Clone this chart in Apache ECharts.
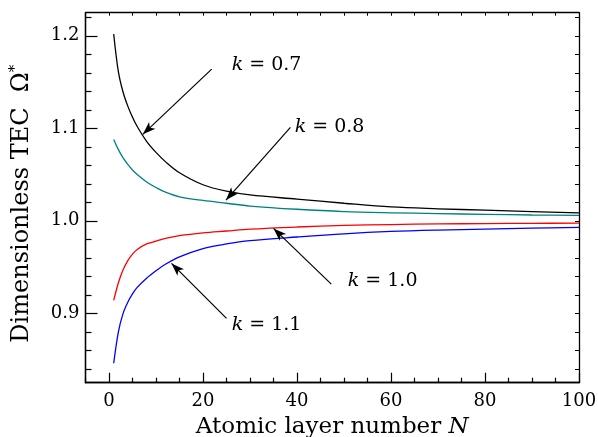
<!DOCTYPE html>
<html>
<head>
<meta charset="utf-8">
<script src="https://cdn.jsdelivr.net/npm/echarts@6/dist/echarts.min.js"></script>
<style>
  html, body { margin: 0; padding: 0; background: #fff; }
  #chart { width: 598px; height: 437px; }
</style>
</head>
<body>
<div id="chart"></div>
<script>
// Valores
const layerN = [1, 2, 3, 4, 5, 6, 8, 10, 12, 15, 20, 25, 30, 40, 50, 60, 70, 80, 90, 100];
const omegaK07 = [1.202, 1.161, 1.139, 1.124, 1.112, 1.102, 1.086, 1.074, 1.064, 1.052, 1.039, 1.032, 1.028, 1.0235, 1.019, 1.015, 1.013, 1.0115, 1.010, 1.0087];
const omegaK08 = [1.088, 1.077, 1.068, 1.061, 1.055, 1.050, 1.042, 1.036, 1.031, 1.026, 1.022, 1.019, 1.016, 1.0125, 1.010, 1.0087, 1.0078, 1.007, 1.0063, 1.0058];
const omegaK10 = [0.914, 0.933, 0.947, 0.957, 0.964, 0.969, 0.975, 0.978, 0.981, 0.984, 0.987, 0.989, 0.991, 0.9933, 0.995, 0.996, 0.9966, 0.997, 0.9973, 0.9975];
const omegaK11 = [0.846, 0.880, 0.900, 0.912, 0.921, 0.928, 0.938, 0.946, 0.953, 0.961, 0.970, 0.975, 0.9785, 0.9825, 0.986, 0.9885, 0.990, 0.991, 0.992, 0.9929];

const xMajorTicks = [0, 20, 40, 60, 80, 100];
const xMinorTicks = [-5, 5, 10, 15, 25, 30, 35, 45, 50, 55, 65, 70, 75, 85, 90, 95];
const yMajorTicks = [0.9, 1.0, 1.1, 1.2];
const yMinorTicks = [0.84, 0.86, 0.88, 0.92, 0.94, 0.96, 0.98, 1.02, 1.04, 1.06, 1.08, 1.12, 1.14, 1.16, 1.18, 1.22];

const kLabels = ['0.7', '0.8', '1.0', '1.1'];
// Flechas: [origen, punta, posición del texto] en coordenadas de datos
const arrowCoords = [
    [[21.85, 1.164], [7.2, 1.0935], [26.1, 1.1683]],
    [[38.6, 1.101], [24.9, 1.0224], [39.5, 1.1013]],
    [[47.3, 0.9316], [35.0, 0.9918], [50.8, 0.9348]],
    [[25.0, 0.8945], [13.3, 0.954], [26.1, 0.8873]]
];

const FONT = 'DejaVu Serif';
const X_MIN = -5, X_MAX = 100, Y_MIN = 0.825, Y_MAX = 1.225;

function pairs(values) {
    return layerN.map((n, i) => [n, values[i]]);
}

function xAxisBase(extra) {
    return Object.assign({
        type: 'value', min: X_MIN, max: X_MAX,
        splitLine: { show: false },
        axisLine: { show: true, onZero: false, lineStyle: { color: '#000', width: 1.3 } },
        axisLabel: { show: false }
    }, extra);
}

function yAxisBase(extra) {
    return Object.assign({
        type: 'value', min: Y_MIN, max: Y_MAX,
        splitLine: { show: false },
        axisLine: { show: true, onZero: false, lineStyle: { color: '#000', width: 1.3 } },
        axisLabel: { show: false }
    }, extra);
}

const chart = echarts.init(document.getElementById('chart'));

const lineSeries = (name, values, color) => ({
    name: name,
    type: 'line',
    data: pairs(values),
    showSymbol: false,
    smooth: 0.35,
    lineStyle: { color: color, width: 1.3 },
    xAxisIndex: 0,
    yAxisIndex: 0,
    silent: true
});

const k07 = lineSeries('k=0.7', omegaK07, '#000000');
// Anotaciones con flechas
k07.markLine = {
    silent: true,
    animation: false,
    label: { show: false },
    lineStyle: { color: '#000', width: 1.2, type: 'solid' },
    symbolSize: [7, 13],
    data: arrowCoords.map(a => [
        { coord: a[0], symbol: 'none' },
        { coord: a[1], symbol: 'arrow' }
    ])
};
k07.markPoint = {
    silent: true,
    animation: false,
    symbol: 'circle',
    symbolSize: 0,
    data: arrowCoords.map((a, i) => ({
        coord: a[2],
        label: {
            show: true,
            position: 'right',
            distance: 0,
            formatter: '{i|k}{t| = ' + kLabels[i] + '}',
            rich: {
                i: { fontFamily: FONT, fontStyle: 'italic', fontSize: 19, color: '#000' },
                t: { fontFamily: FONT, fontSize: 19, color: '#000' }
            }
        }
    }))
};

chart.setOption({
    animation: false,
    backgroundColor: '#fff',
    grid: { left: 85.5, right: 19, top: 12.7, bottom: 54.3, containLabel: false, outerBoundsMode: 'none' },
    xAxis: [
        xAxisBase({
            position: 'bottom',
            name: '{t|Atomic layer number }{i|N}',
            nameLocation: 'middle',
            nameGap: 28,
            nameTextStyle: {
                rich: {
                    t: { fontFamily: FONT, fontSize: 23, color: '#000' },
                    i: { fontFamily: FONT, fontSize: 23, fontStyle: 'italic', color: '#000' }
                }
            },
            axisTick: { show: true, inside: true, length: 10, customValues: xMajorTicks, lineStyle: { color: '#000', width: 1.2 } },
            axisLabel: { show: true, customValues: xMajorTicks, margin: 10, fontFamily: FONT, fontSize: 18, color: '#000' }
        }),
        xAxisBase({
            position: 'bottom',
            axisTick: { show: true, inside: true, length: 5, customValues: xMinorTicks, lineStyle: { color: '#000', width: 1.2 } }
        }),
        xAxisBase({
            position: 'top',
            axisTick: { show: true, inside: true, length: 3, customValues: xMajorTicks.concat(xMinorTicks), lineStyle: { color: '#000', width: 1 } }
        })
    ],
    yAxis: [
        yAxisBase({
            position: 'left',
            name: '{t|Dimensionless TEC  Ω}{s|*}',
            nameLocation: 'middle',
            nameGap: 50,
            nameRotate: 90,
            nameTextStyle: {
                padding: [0, 12, 0, 0],
                rich: {
                    t: { fontFamily: FONT, fontSize: 24, color: '#000' },
                    s: { fontFamily: FONT, fontSize: 15, color: '#000', padding: [0, 0, 13, 0] }
                }
            },
            axisTick: { show: true, inside: true, length: 12, customValues: yMajorTicks, lineStyle: { color: '#000', width: 1.2 } },
            axisLabel: { show: true, customValues: yMajorTicks, margin: 6, fontFamily: FONT, fontSize: 18, color: '#000',
                formatter: v => v.toFixed(1) }
        }),
        yAxisBase({
            position: 'left',
            axisTick: { show: true, inside: true, length: 6, customValues: yMinorTicks, lineStyle: { color: '#000', width: 1.2 } }
        }),
        yAxisBase({
            position: 'right',
            axisTick: { show: true, inside: true, length: 4, customValues: yMajorTicks.concat(yMinorTicks), lineStyle: { color: '#000', width: 1 } }
        })
    ],
    series: [
        k07,
        lineSeries('k=0.8', omegaK08, '#008080'),
        lineSeries('k=1.0', omegaK10, '#ff0000'),
        lineSeries('k=1.1', omegaK11, '#0000ff')
    ]
});
</script>
</body>
</html>
